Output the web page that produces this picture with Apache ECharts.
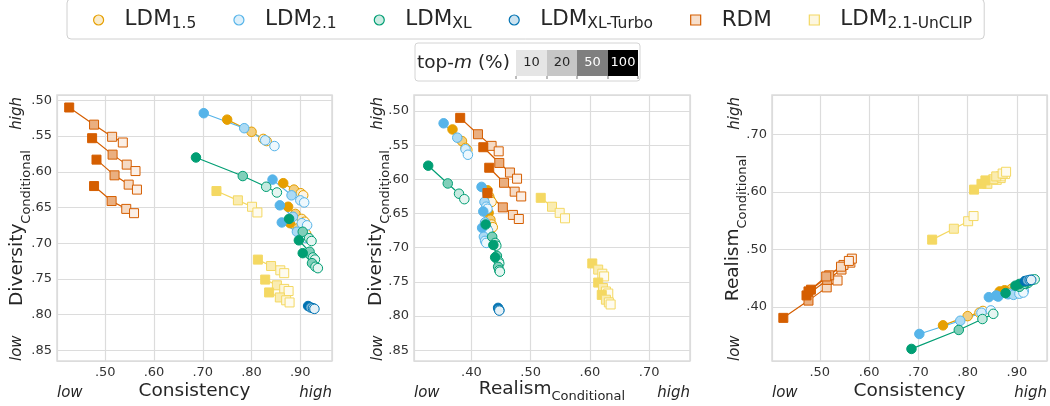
<!DOCTYPE html>
<html>
<head>
<meta charset="utf-8">
<script src="https://cdn.jsdelivr.net/npm/echarts@6/dist/echarts.min.js"></script>
<style>
  html, body { margin: 0; padding: 0; background: #fff; }
  #chart { width: 1050px; height: 406px; }
</style>
</head>
<body>
<div id="chart"></div>
<script>
// top-m (%) of the 4 points in every run, in the order they are listed
var topM = [100, 50, 20, 10];

// every point: [consistency, diversity, realism]
var ldm15 = [
  [[0.750, 0.527, 0.368], [0.800, 0.544, 0.384], [0.824, 0.554, 0.390], [0.831, 0.557, 0.393]],
  [[0.865, 0.616, 0.427], [0.887, 0.625, 0.430], [0.901, 0.630, 0.432], [0.906, 0.633, 0.434]],
  [[0.875, 0.649, 0.429], [0.890, 0.659, 0.432], [0.903, 0.666, 0.434], [0.909, 0.670, 0.436]],
  [[0.879, 0.672, 0.426], [0.895, 0.679, 0.429], [0.905, 0.684, 0.431], [0.912, 0.687, 0.432]]
];
var ldm21 = [
  [[0.702, 0.518, 0.353], [0.785, 0.539, 0.376], [0.828, 0.556, 0.390], [0.847, 0.564, 0.394]],
  [[0.843, 0.611, 0.417], [0.882, 0.633, 0.422], [0.900, 0.640, 0.425], [0.908, 0.643, 0.427]],
  [[0.858, 0.647, 0.420], [0.885, 0.663, 0.423], [0.903, 0.672, 0.426], [0.914, 0.675, 0.428]],
  [[0.862, 0.671, 0.418], [0.893, 0.684, 0.421], [0.905, 0.690, 0.423], [0.913, 0.693, 0.425]]
];
var ldmXL = [
  [[0.686, 0.580, 0.327], [0.782, 0.606, 0.360], [0.830, 0.621, 0.379], [0.852, 0.629, 0.388]],
  [[0.877, 0.666, 0.424], [0.905, 0.684, 0.435], [0.918, 0.693, 0.440], [0.923, 0.697, 0.442]],
  [[0.897, 0.696, 0.437], [0.919, 0.712, 0.443], [0.926, 0.720, 0.446], [0.930, 0.723, 0.447]],
  [[0.905, 0.714, 0.440], [0.924, 0.728, 0.445], [0.931, 0.733, 0.447], [0.936, 0.735, 0.448]]
];
var ldmXLTurbo = [
  [[0.916, 0.788, 0.445], [0.921, 0.790, 0.446], [0.926, 0.791, 0.447], [0.929, 0.792, 0.447]]
];
var rdm = [
  [[0.426, 0.510, 0.381], [0.477, 0.534, 0.411], [0.514, 0.551, 0.434], [0.536, 0.559, 0.446]],
  [[0.473, 0.553, 0.420], [0.515, 0.576, 0.447], [0.544, 0.590, 0.465], [0.562, 0.599, 0.477]],
  [[0.482, 0.583, 0.430], [0.519, 0.605, 0.455], [0.548, 0.618, 0.473], [0.565, 0.625, 0.484]],
  [[0.477, 0.620, 0.427], [0.513, 0.641, 0.453], [0.543, 0.652, 0.470], [0.559, 0.658, 0.480]]
];
var ldm21UnClip = [
  [[0.728, 0.627, 0.517], [0.772, 0.640, 0.536], [0.801, 0.649, 0.549], [0.812, 0.657, 0.558]],
  [[0.813, 0.723, 0.604], [0.840, 0.732, 0.614], [0.859, 0.738, 0.621], [0.867, 0.742, 0.624]],
  [[0.828, 0.751, 0.614], [0.852, 0.759, 0.622], [0.867, 0.764, 0.627], [0.876, 0.767, 0.631]],
  [[0.836, 0.769, 0.620], [0.858, 0.776, 0.627], [0.871, 0.780, 0.632], [0.878, 0.783, 0.635]]
];

var FONT = 'DejaVu Sans';
var INK = '#262626';

var models = [
  { name: 'LDM1.5', sub: '1.5', color: '#E69F00', symbol: 'circle', runs: ldm15 },
  { name: 'LDM2.1', sub: '2.1', color: '#56B4E9', symbol: 'circle', runs: ldm21 },
  { name: 'LDMXL', sub: 'XL', color: '#009E73', symbol: 'circle', runs: ldmXL },
  { name: 'LDMXL-Turbo', sub: 'XL-Turbo', color: '#0072B2', symbol: 'circle', runs: ldmXLTurbo },
  { name: 'RDM', sub: '', color: '#D55E00', symbol: 'rect', runs: rdm },
  { name: 'LDM2.1-UnCLIP', sub: '2.1-UnCLIP', color: '#F4D862', symbol: 'rect', runs: ldm21UnClip }
];

// fill strength for each top-m level
var fillAlpha = { 100: 1, 50: 0.5, 20: 0.23, 10: 0.1 };

// which coordinate goes on x / y in each panel
var panels = [[0, 1], [2, 1], [0, 2]];

function mix(hex, a) {
  var n = parseInt(hex.slice(1), 16);
  var f = function (c) { return Math.round(c * a + 255 * (1 - a)); };
  return 'rgb(' + f((n >> 16) & 255) + ',' + f((n >> 8) & 255) + ',' + f(n & 255) + ')';
}

var series = [];
models.forEach(function (m) {
  m.runs.forEach(function (run) {
    panels.forEach(function (p, pi) {
      series.push({
        type: 'line',
        name: m.name,
        xAxisIndex: pi,
        yAxisIndex: pi,
        symbol: m.symbol,
        symbolSize: m.symbol === 'rect' ? 9 : 9.5,
        silent: true,
        lineStyle: { color: m.color, width: 1.2 },
        itemStyle: { color: m.color },
        data: run.map(function (pt, i) {
          return {
            value: [pt[p[0]], pt[p[1]]],
            itemStyle: { color: mix(m.color, fillAlpha[topM[i]]), borderColor: m.color, borderWidth: 1 }
          };
        })
      });
    });
  });
});

function tickFmt(step) {
  return function (v) {
    var k = v / step;
    if (Math.abs(k - Math.round(k)) > 1e-6) return '';
    return v.toFixed(2).replace(/^0/, '');
  };
}

var richName = {
  fontFamily: FONT, color: INK,
  rich: {
    m: { fontFamily: FONT, fontSize: 18.5, color: INK, verticalAlign: 'top' },
    s: { fontFamily: FONT, fontSize: 13, color: INK, verticalAlign: 'top', padding: [12, 0, 0, 0] }
  }
};

function axis(grid, min, max, split, step, extra) {
  var a = {
    type: 'value', gridIndex: grid, min: min, max: max, splitNumber: split,
    axisLine: { show: false }, axisTick: { show: false },
    splitLine: { lineStyle: { color: '#dcdcdc', width: 1.2 } },
    axisLabel: { formatter: tickFmt(step), fontFamily: FONT, fontSize: 13, color: '#333', margin: 5 },
    nameLocation: 'middle', nameMoveOverlap: false
  };
  for (var k in extra) a[k] = extra[k];
  return a;
}

var xAxes = [
  axis(0, 0.401, 0.965, 5, 0.1, { name: 'Consistency', nameGap: 21, nameTextStyle: { fontFamily: FONT, fontSize: 18.5, color: INK } }),
  axis(1, 0.303, 0.769, 5, 0.1, {}),
  axis(2, 0.403, 0.961, 5, 0.1, { name: 'Consistency', nameGap: 21, nameTextStyle: { fontFamily: FONT, fontSize: 18.5, color: INK } })
];
var yAxes = [
  axis(0, 0.4925, 0.865, 7, 0.05, { inverse: true, name: '{m|Diversity}{s|Conditional}', nameGap: 24, nameTextStyle: richName }),
  axis(1, 0.4766, 0.8657, 7, 0.05, { inverse: true, name: '{m|Diversity}{s|Conditional}', nameGap: 22, nameTextStyle: richName }),
  axis(2, 0.306, 0.7685, 5, 0.1, { name: '{m|Realism}{s|Conditional}', nameGap: 23, nameTextStyle: richName })
];

var gridBox = { top: 95, height: 266, show: true, borderColor: '#dcdcdc', borderWidth: 1.5, outerBoundsMode: 'none' };
function grid(left, width) {
  var g = { left: left, width: width };
  for (var k in gridBox) g[k] = gridBox[k];
  return g;
}

// middle panel x title, placed below its tick labels
var titles = [{
  type: 'text', x: 552, y: 380, silent: true, z: -1,
  style: {
    text: '{m|Realism}{s|Conditional}', align: 'center', verticalAlign: 'top',
    rich: {
      m: { fontFamily: FONT, fontSize: 18.5, fill: INK, verticalAlign: 'top' },
      s: { fontFamily: FONT, fontSize: 13, fill: INK, verticalAlign: 'top', padding: [10, 0, 0, 0] }
    }
  }
}];

// "low" / "high" hints next to the axes
var hints = [];
function hintX(x, y, text, align) {
  hints.push({ type: 'text', x: x, y: y, silent: true,
    style: { text: text, fill: INK, font: 'italic 15px "DejaVu Sans"', align: align, verticalAlign: 'middle' } });
}
function hintY(x, y, text, align) {
  hints.push({ type: 'text', x: x, y: y, rotation: Math.PI / 2, silent: true,
    style: { text: text, fill: INK, font: 'italic 15px "DejaVu Sans"', align: align, verticalAlign: 'middle' } });
}
[[57, 332, 17], [414, 690, 378], [772, 1047, 735]].forEach(function (g) {
  hintX(g[0], 393, 'low', 'left');
  hintX(g[1], 393, 'high', 'right');
  hintY(g[2], 97, 'high', 'right');
  hintY(g[2], 361, 'low', 'left');
});

// top-m colour key
var keyCells = ['10', '20', '50', '100'];
var keyFill = ['#e5e5e5', '#c6c6c6', '#7f7f7f', '#000000'];
var keyText = [INK, INK, '#ffffff', '#ffffff'];
var keyEdges = [516, 547, 577, 608, 638];
var key = [
  { type: 'rect', shape: { x: 415, y: 43, width: 225, height: 38, r: 3 }, silent: true,
    style: { fill: '#fff', stroke: '#d4d4d4', lineWidth: 1 } },
  { type: 'text', x: 417, y: 63, silent: true,
    style: { text: '{a|top-}{b|m}{a| (%)}', verticalAlign: 'middle', align: 'left',
      rich: { a: { fontFamily: FONT, fontSize: 18.5, fill: INK },
              b: { fontFamily: FONT, fontSize: 18.5, fontStyle: 'italic', fill: INK } } } }
];
keyCells.forEach(function (t, i) {
  key.push({ type: 'rect', silent: true,
    shape: { x: keyEdges[i], y: 50, width: keyEdges[i + 1] - keyEdges[i], height: 26 },
    style: { fill: keyFill[i] } });
  key.push({ type: 'text', silent: true, x: (keyEdges[i] + keyEdges[i + 1]) / 2, y: 63,
    style: { text: t, fill: keyText[i], font: '13px "DejaVu Sans"', align: 'center', verticalAlign: 'middle' } });
});
keyEdges.forEach(function (x) {
  key.push({ type: 'line', silent: true, shape: { x1: x, y1: 76, x2: x, y2: 79 },
    style: { stroke: '#555', lineWidth: 0.8 } });
});

var chart = echarts.init(document.getElementById('chart'), null, { renderer: 'canvas' });
chart.setOption({
  animation: false,
  backgroundColor: '#fff',
  textStyle: { fontFamily: FONT },
  legend: {
    left: 67, top: -1, padding: [9, 12, 7, 26],
    itemGap: 37, itemWidth: 10, itemHeight: 10,
    borderColor: '#d0d0d0', borderWidth: 1, borderRadius: 4,
    selectedMode: false,
    data: models.map(function (m) {
      return { name: m.name, icon: m.symbol,
        itemStyle: { color: mix(m.color, 0.2), borderColor: m.color, borderWidth: 1.2 } };
    }),
    formatter: function (name) {
      var m = models.filter(function (d) { return d.name === name; })[0];
      if (!m.sub) return '{m|' + name + '}';
      return '{m|LDM}{s|' + m.sub + '}';
    },
    textStyle: {
      fontFamily: FONT, fontSize: 21.5, color: INK,
      rich: {
        m: { fontFamily: FONT, fontSize: 21.5, color: INK, verticalAlign: 'top', padding: [0, 0, 0, 16] },
        s: { fontFamily: FONT, fontSize: 15.5, color: INK, verticalAlign: 'top', padding: [8, 0, 0, 0] }
      }
    }
  },
  grid: [grid(57, 275), grid(414, 276), grid(772, 275)],
  xAxis: xAxes,
  yAxis: yAxes,
  series: series,
  graphic: hints.concat(key, titles)
});
</script>
</body>
</html>
